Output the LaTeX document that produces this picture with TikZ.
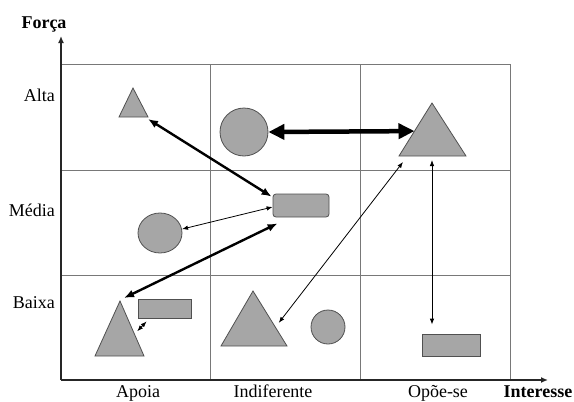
\documentclass[tikz,border=0pt]{standalone}
\usepackage{fontspec}
\setmainfont{Liberation Serif}
\usetikzlibrary{arrows.meta,calc,shapes.geometric}
\definecolor{shapegray}{RGB}{166,166,166}
\definecolor{edgegray}{RGB}{80,80,80}
\definecolor{gridgray}{RGB}{120,120,120}
\begin{document}
\begin{tikzpicture}[x=1pt,y=-1pt,
  gridline/.style={draw=gridgray, line width=1pt},
  axis/.style={draw=black!85, line width=2.2pt, -{Latex[length=7pt,width=6pt]}},
  shp/.style={fill=shapegray, draw=edgegray, line width=0.8pt, inner sep=0pt},
  lbl/.style={font=\fontsize{18}{20}\selectfont, inner sep=0pt},
  blbl/.style={font=\fontsize{18}{20}\selectfont\bfseries, inner sep=0pt},
  thinarr/.style={draw=black, line width=0.8pt, {Latex[length=6pt,width=4.5pt]}-{Latex[length=6pt,width=4.5pt]}},
  thickarr/.style={draw=black, line width=2.4pt, {Latex[length=10pt,width=8pt]}-{Latex[length=10pt,width=8pt]}},
  heavyarr/.style={draw=black, line width=4.5pt, {Triangle[length=16pt,width=15pt]}-{Triangle[length=16pt,width=15pt]}}
]
\useasboundingbox (0,0) rectangle (574,402);

% grid of the matrix
\draw[gridline] (61,64) rectangle (510,380);
\draw[gridline] (61,170) -- (510,170);
\draw[gridline] (61,275) -- (510,275);
\draw[gridline] (210,64) -- (210,380);
\draw[gridline] (360,64) -- (360,380);

% axes
\coordinate (o) at (61,380);
\coordinate (ytop) at (61,36);
\coordinate (xend) at (548,380);
\draw[axis] (o) -- (ytop);
\draw[axis] (o) -- (xend);

% axis labels
\node[blbl, anchor=base] (forca) at (44,28) {Força};
\node[lbl, anchor=base east] (alta) at (55,101) {Alta};
\node[lbl, anchor=base east] (media) at (55,216) {Média};
\node[lbl, anchor=base east] (baixa) at (55,308) {Baixa};
\node[lbl, anchor=base] (apoia) at (138,397) {Apoia};
\node[lbl, anchor=base] (indif) at (273,397) {Indiferente};
\node[lbl, anchor=base] (opoe) at (438,397) {Opõe-se};
\node[blbl, anchor=base] (inter) at (538,397) {Interesse};

% triangles
\coordinate (t1a) at (133,88);  \coordinate (t1l) at (119,117); \coordinate (t1r) at (148,117);
\coordinate (t2a) at (432,103); \coordinate (t2l) at (399,156); \coordinate (t2r) at (466,156);
\coordinate (t2b) at (432,156);
\coordinate (t3a) at (120,301); \coordinate (t3l) at (95,356);  \coordinate (t3r) at (144,356);
\coordinate (t4a) at (253,291); \coordinate (t4l) at (221,346); \coordinate (t4r) at (287,346);
\filldraw[shp] (t1a) -- (t1r) -- (t1l) -- cycle;
\filldraw[shp] (t2a) -- (t2r) -- (t2l) -- cycle;
\filldraw[shp] (t3a) -- (t3r) -- (t3l) -- cycle;
\filldraw[shp] (t4a) -- (t4r) -- (t4l) -- cycle;

% circles
\node[shp, circle, minimum size=48pt] (c1) at (244,132) {};
\node[shp, ellipse, minimum width=44pt, minimum height=40pt] (c2) at (160,233) {};
\node[shp, circle, minimum size=34pt] (c3) at (328,327) {};

% rectangles
\node[shp, rectangle, rounded corners=3pt, minimum width=56pt, minimum height=23pt] (r1) at (301,205.5) {};
\node[shp, rectangle, minimum width=53pt, minimum height=19pt] (r2) at (164.5,308.5) {};
\node[shp, rectangle, minimum width=58pt, minimum height=22pt] (r3) at (451,345) {};

% relations
\draw[heavyarr] (c1.east) -- ($(t2a)!0.53!(t2l)$);
\draw[thickarr] ($(t1r)+(0,2)$) -- ($(r1.north west)+(-1,3)$);
\draw[thinarr] (c2.10) -- ($(r1.west)+(0,1.5)$);
\draw[thickarr] ($(t3a)+(4,-3)$) -- ($(r1.south west)+(5,6)$);
\draw[thinarr] ($(t4a)!0.58!(t4r)+(6,0)$) -- ($(t2l)+(4,6)$);
\draw[thinarr] ($(t2b)+(0,4)$) -- ($(t2b |- r3.north)+(0,-9)$);
\draw[thinarr] ($(t3a)!0.55!(t3r)+(4,0)$) -- ($(r2.south west)+(9,3)$);
\end{tikzpicture}
\end{document}
